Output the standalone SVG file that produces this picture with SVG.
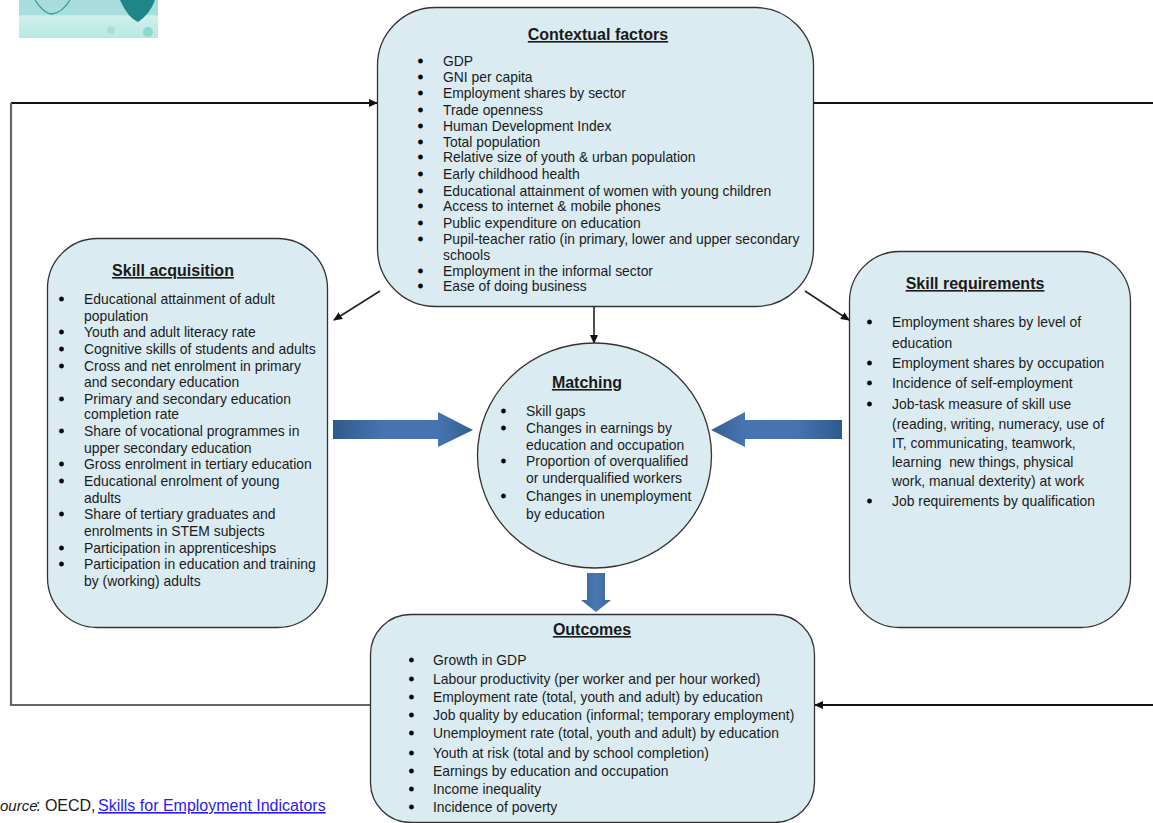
<svg xmlns="http://www.w3.org/2000/svg" width="1153" height="823" viewBox="0 0 1153 823">
<style>
text{font-family:"Liberation Sans",Arial,sans-serif;font-size:13.9px;fill:#1a1a1a}
.b{fill:#000;stroke:#000;stroke-width:.9}
.h{font-size:16px;font-weight:bold;text-decoration:underline;text-anchor:middle}
.n{fill:#daecf2;stroke:#333;stroke-width:1.3}
.g{fill:none;stroke:#666;stroke-width:2.2}
.k{fill:none;stroke:#111;stroke-width:2}
.k1{fill:none;stroke:#222;stroke-width:1.6}
.s{font-size:16px}
.i{font-size:15px;font-style:italic}
.l{font-size:16px;fill:#2a1cf0;text-decoration:underline}
</style>
<defs>
<marker id="a" markerWidth="9" markerHeight="8" refX="8" refY="4" orient="auto" markerUnits="userSpaceOnUse"><path d="M0 0L9 4L0 8z" fill="#111"/></marker>
<linearGradient id="bl" x1="0" x2="1" y1="0" y2="0"><stop offset="0" stop-color="#2f5a8c"/><stop offset=".35" stop-color="#4674b0"/><stop offset=".75" stop-color="#4674b0"/><stop offset="1" stop-color="#33608f"/></linearGradient>
<linearGradient id="br" x1="1" x2="0" y1="0" y2="0"><stop offset="0" stop-color="#2f5a8c"/><stop offset=".35" stop-color="#4674b0"/><stop offset=".75" stop-color="#4674b0"/><stop offset="1" stop-color="#33608f"/></linearGradient>
<linearGradient id="bd" x1="0" x2="1" y1="0" y2="0"><stop offset="0" stop-color="#3a6699"/><stop offset=".5" stop-color="#4a78b3"/><stop offset="1" stop-color="#3a6699"/></linearGradient>
<linearGradient id="tl" x1="0" x2="0" y1="0" y2="1"><stop offset="0" stop-color="#a6dcdc"/><stop offset=".38" stop-color="#a9dede"/><stop offset=".42" stop-color="#d0f0ec"/><stop offset="1" stop-color="#b8e8e2"/></linearGradient>
</defs>
<g id="logo">
<rect x="19" y="0" width="139" height="38" fill="url(#tl)"/>
<path d="M35 0Q44 14 52 14Q62 13 70 0" fill="none" stroke="#3e9a9c" stroke-width="1.3"/>
<path d="M120 0Q128 18 138 22Q150 14 155 0z" fill="#1f8587"/>
<circle cx="148" cy="32" r="5" fill="#8fd6d0"/><circle cx="111" cy="30" r="4" fill="#a7e0da"/>
</g>
<g id="connectors">
<path class="k" d="M11 103H377" marker-end="url(#a)"/>
<path class="g" d="M11 103V705H371"/>
<path class="k" d="M814 103H1153"/>
<path class="k" d="M1153 705H815" marker-end="url(#a)"/>
<path class="k1" d="M380 291L334 320" marker-end="url(#a)"/>
<path class="k1" d="M805 291L849 320" marker-end="url(#a)"/>
<path class="k1" d="M594 307V343" marker-end="url(#a)"/>
</g>
<g id="contextual-factors">
<rect class="n" x="377.500" y="7.500" width="436" height="299" rx="58"/>
<text class="h" x="598" y="40">Contextual factors</text>
<g id="cf-items">
<text class="b" x="418" y="66">•</text><text x="443" y="66">GDP</text>
<text class="b" x="418" y="82">•</text><text x="443" y="82">GNI per capita</text>
<text class="b" x="418" y="98">•</text><text x="443" y="98">Employment shares by sector</text>
<text class="b" x="418" y="115">•</text><text x="443" y="115">Trade openness</text>
<text class="b" x="418" y="131">•</text><text x="443" y="131">Human Development Index</text>
<text class="b" x="418" y="147">•</text><text x="443" y="147">Total population</text>
<text class="b" x="418" y="162">•</text><text x="443" y="162">Relative size of youth &amp; urban population</text>
<text class="b" x="418" y="179">•</text><text x="443" y="179">Early childhood health</text>
<text class="b" x="418" y="196">•</text><text x="443" y="196">Educational attainment of women with young children</text>
<text class="b" x="418" y="211">•</text><text x="443" y="211">Access to internet &amp; mobile phones</text>
<text class="b" x="418" y="228">•</text><text x="443" y="228">Public expenditure on education</text>
<text class="b" x="418" y="244">•</text><text x="443" y="244">Pupil-teacher ratio (in primary, lower and upper secondary</text>
<text x="443" y="260">schools</text>
<text class="b" x="418" y="276">•</text><text x="443" y="276">Employment in the informal sector</text>
<text class="b" x="418" y="291">•</text><text x="443" y="291">Ease of doing business</text>
</g>
</g>
<g id="skill-acquisition">
<rect class="n" x="47.500" y="238.500" width="280" height="389" rx="50"/>
<text class="h" x="173" y="276">Skill acquisition</text>
<g>
<text class="b" x="59" y="304">•</text><text x="84" y="304">Educational attainment of adult</text>
<text x="84" y="321">population</text>
<text class="b" x="59" y="337">•</text><text x="84" y="337">Youth and adult literacy rate</text>
<text class="b" x="59" y="354">•</text><text x="84" y="354">Cognitive skills of students and adults</text>
<text class="b" x="59" y="371">•</text><text x="84" y="371">Cross and net enrolment in primary</text>
<text x="84" y="387">and secondary education</text>
<text class="b" x="59" y="404">•</text><text x="84" y="404">Primary and secondary education</text>
<text x="84" y="419">completion rate</text>
<text class="b" x="59" y="436">•</text><text x="84" y="436">Share of vocational programmes in</text>
<text x="84" y="453">upper secondary education</text>
<text class="b" x="59" y="469">•</text><text x="84" y="469">Gross enrolment in tertiary education</text>
<text class="b" x="59" y="486">•</text><text x="84" y="486">Educational enrolment of young</text>
<text x="84" y="503">adults</text>
<text class="b" x="59" y="519">•</text><text x="84" y="519">Share of tertiary graduates and</text>
<text x="84" y="536">enrolments in STEM subjects</text>
<text class="b" x="59" y="553">•</text><text x="84" y="553">Participation in apprenticeships</text>
<text class="b" x="59" y="569">•</text><text x="84" y="569">Participation in education and training</text>
<text x="84" y="586">by (working) adults</text>
</g>
</g>
<g id="skill-requirements">
<rect class="n" x="849.500" y="251.500" width="281" height="376" rx="50"/>
<text class="h" x="975" y="289">Skill requirements</text>
<g>
<text class="b" x="867" y="327">•</text><text x="892" y="327">Employment shares by level of</text>
<text x="892" y="348">education</text>
<text class="b" x="867" y="368">•</text><text x="892" y="368">Employment shares by occupation</text>
<text class="b" x="867" y="388">•</text><text x="892" y="388">Incidence of self-employment</text>
<text class="b" x="867" y="409">•</text><text x="892" y="409">Job-task measure of skill use</text>
<text x="892" y="429">(reading, writing, numeracy, use of</text>
<text x="892" y="448">IT, communicating, teamwork,</text>
<text x="892" y="467" xml:space="preserve">learning  new things, physical</text>
<text x="892" y="486">work, manual dexterity) at work</text>
<text class="b" x="867" y="506">•</text><text x="892" y="506">Job requirements by qualification</text>
</g>
</g>
<g id="matching">
<ellipse class="n" cx="594.500" cy="455.500" rx="117" ry="112.500"/>
<text class="h" x="587" y="388">Matching</text>
<g>
<text class="b" x="501" y="416">•</text><text x="526" y="416">Skill gaps</text>
<text class="b" x="501" y="433">•</text><text x="526" y="433">Changes in earnings by</text>
<text x="526" y="450">education and occupation</text>
<text class="b" x="501" y="466">•</text><text x="526" y="466">Proportion of overqualified</text>
<text x="526" y="483">or underqualified workers</text>
<text class="b" x="501" y="501">•</text><text x="526" y="501">Changes in unemployment</text>
<text x="526" y="519">by education</text>
</g>
</g>
<g id="outcomes">
<rect class="n" x="370.500" y="614.500" width="444" height="208" rx="40"/>
<text class="h" x="592" y="635">Outcomes</text>
<g>
<text class="b" x="409" y="665">•</text><text x="433" y="665">Growth in GDP</text>
<text class="b" x="409" y="684">•</text><text x="433" y="684">Labour productivity (per worker and per hour worked)</text>
<text class="b" x="409" y="702">•</text><text x="433" y="702">Employment rate (total, youth and adult) by education</text>
<text class="b" x="409" y="720">•</text><text x="433" y="720">Job quality by education (informal; temporary employment)</text>
<text class="b" x="409" y="738">•</text><text x="433" y="738">Unemployment rate (total, youth and adult) by education</text>
<text class="b" x="409" y="758">•</text><text x="433" y="758">Youth at risk (total and by school completion)</text>
<text class="b" x="409" y="776">•</text><text x="433" y="776">Earnings by education and occupation</text>
<text class="b" x="409" y="794">•</text><text x="433" y="794">Income inequality</text>
<text class="b" x="409" y="812">•</text><text x="433" y="812">Incidence of poverty</text>
</g>
</g>
<g id="block-arrows">
<path fill="url(#bl)" d="M333 420H438V412L473 430L438 447V439H333z"/>
<path fill="url(#br)" d="M842 420H745V412L711 430L745 447V439H842z"/>
<path fill="url(#bd)" d="M587 573H605V600H611L596 612L581 600H587z"/>
</g>
<g id="source">
<text class="i" x="0" y="811">ource</text>
<text class="s" x="36" y="811">: OECD,</text>
<text class="l" x="98" y="811">Skills for Employment Indicators</text>
</g>
</svg>
